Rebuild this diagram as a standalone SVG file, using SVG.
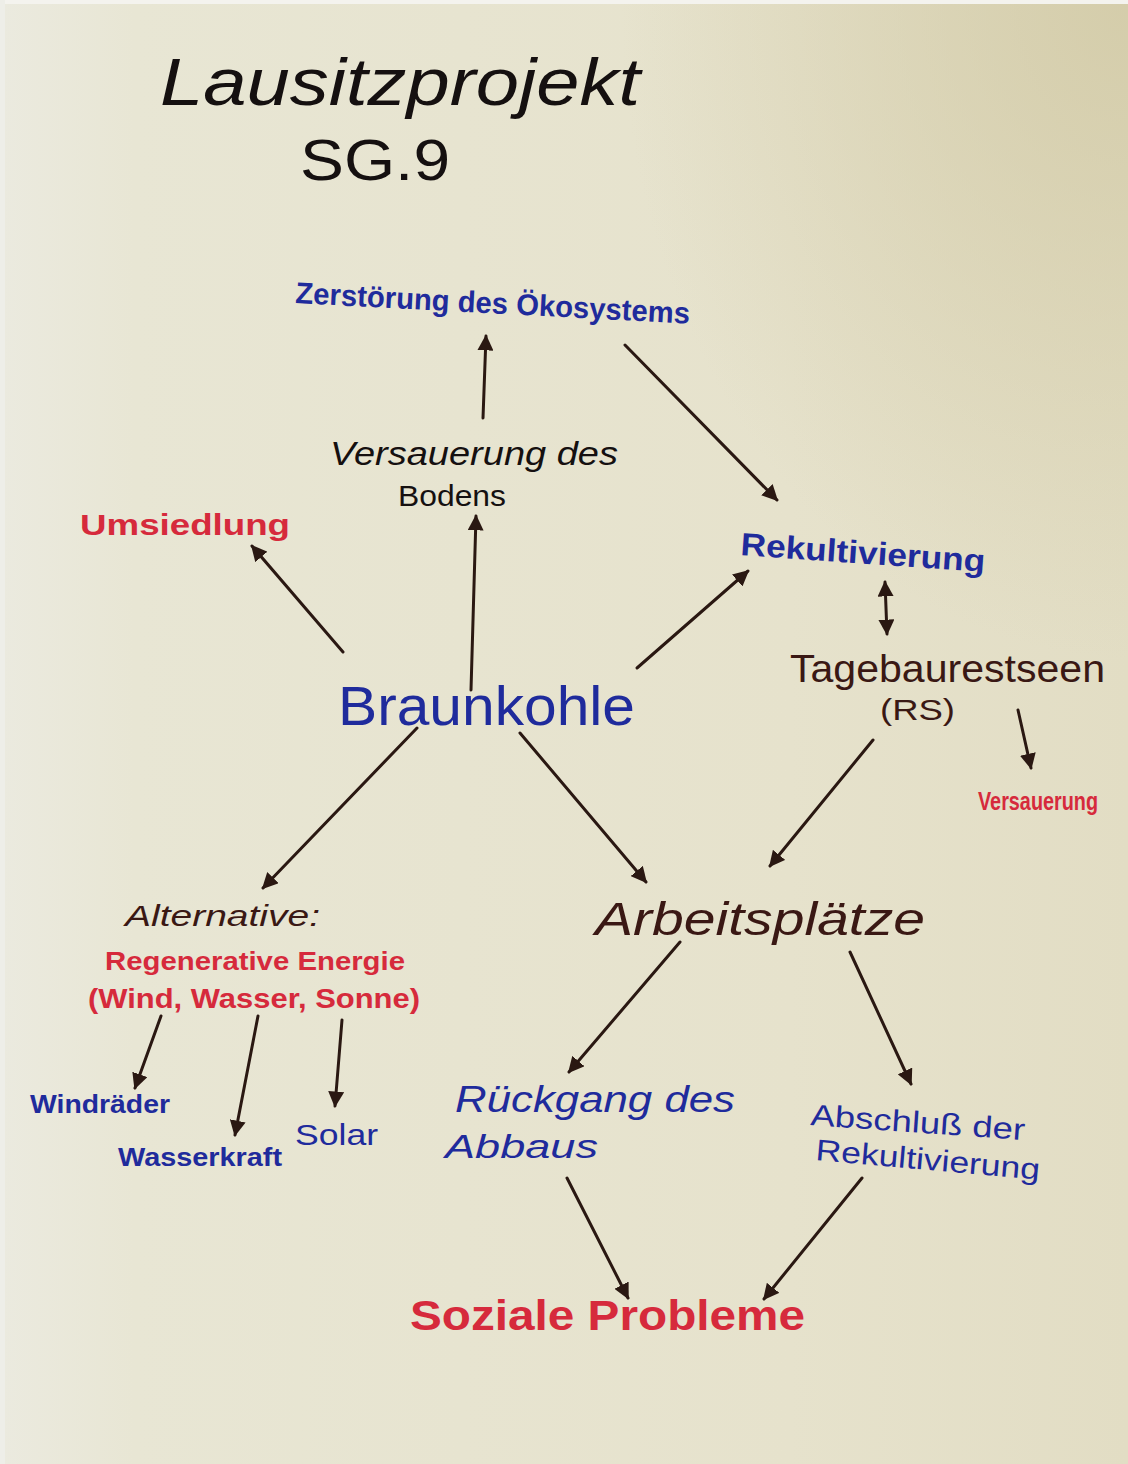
<svg xmlns="http://www.w3.org/2000/svg" width="1128" height="1464" viewBox="0 0 1128 1464">
<defs>
<linearGradient id="paper" x1="0" y1="0" x2="1" y2="0">
<stop offset="0" stop-color="#ebeadf"/>
<stop offset="0.12" stop-color="#e8e6d4"/>
<stop offset="0.7" stop-color="#e6e2cc"/>
<stop offset="1" stop-color="#e2ddc4"/>
</linearGradient>
<radialGradient id="corner" cx="1" cy="0" r="0.45">
<stop offset="0" stop-color="#d2caa6" stop-opacity="0.85"/>
<stop offset="1" stop-color="#d2caa6" stop-opacity="0"/>
</radialGradient>
<marker id="ah" viewBox="0 0 10 10" refX="9" refY="5" markerWidth="16" markerHeight="16" markerUnits="userSpaceOnUse" orient="auto-start-reverse">
<path d="M0,0 L10,5 L0,10 z" fill="#2a1812"/>
</marker>
<style>
text{font-family:"Liberation Sans","DejaVu Sans",sans-serif;}
.blue{fill:#1f2b9c;}
.red{fill:#d62a3c;}
.brown{fill:#3a1814;}
.black{fill:#151010;}
.con line{stroke:#2a1812;stroke-width:3;stroke-linecap:round;marker-end:url(#ah);}
</style>
</defs>
<rect x="0" y="0" width="1128" height="1464" fill="url(#paper)"/>
<rect x="0" y="0" width="1128" height="1464" fill="url(#corner)"/>
<rect x="0" y="0" width="1128" height="4" fill="#f4f3ee"/>
<rect x="0" y="0" width="5" height="1464" fill="#eeeee8"/>

<g id="title">
<text class="black" x="160" y="105" font-size="66" textLength="480" lengthAdjust="spacingAndGlyphs" font-style="italic">Lausitzprojekt</text>
<text class="black" x="300" y="180" font-size="58" textLength="150" lengthAdjust="spacingAndGlyphs">SG.9</text>
</g>

<g id="node-zerstoerung">
<text class="blue" x="295" y="303" font-size="30" font-weight="bold" textLength="395" lengthAdjust="spacingAndGlyphs" transform="rotate(3 295 303)">Zerstörung des Ökosystems</text>
</g>
<g id="node-versauerung-boden">
<text class="black" x="330" y="465" font-size="34" textLength="288" lengthAdjust="spacingAndGlyphs" font-style="italic">Versauerung des</text>
<text class="black" x="398" y="506" font-size="30" textLength="108" lengthAdjust="spacingAndGlyphs">Bodens</text>
</g>
<g id="node-umsiedlung">
<text class="red" x="80" y="535" font-size="30" font-weight="bold" textLength="210" lengthAdjust="spacingAndGlyphs">Umsiedlung</text>
</g>
<g id="node-rekultivierung">
<text class="blue" x="740" y="555" font-size="32" font-weight="bold" textLength="245" lengthAdjust="spacingAndGlyphs" transform="rotate(4 740 555)">Rekultivierung</text>
</g>
<g id="node-tagebaurestseen">
<text class="brown" x="790" y="682" font-size="38" textLength="315" lengthAdjust="spacingAndGlyphs">Tagebaurestseen</text>
<text class="brown" x="880" y="720" font-size="30" textLength="75" lengthAdjust="spacingAndGlyphs">(RS)</text>
</g>
<g id="node-versauerung">
<text class="red" x="978" y="810" font-size="25" font-weight="bold" textLength="120" lengthAdjust="spacingAndGlyphs">Versauerung</text>
</g>
<g id="node-braunkohle">
<text class="blue" x="338" y="725" font-size="56" textLength="297" lengthAdjust="spacingAndGlyphs">Braunkohle</text>
</g>
<g id="node-alternative">
<text class="brown" x="125" y="926" font-size="30" textLength="195" lengthAdjust="spacingAndGlyphs" font-style="italic">Alternative:</text>
<text class="red" x="105" y="970" font-size="26" font-weight="bold" textLength="300" lengthAdjust="spacingAndGlyphs">Regenerative Energie</text>
<text class="red" x="88" y="1008" font-size="28" font-weight="bold" textLength="332" lengthAdjust="spacingAndGlyphs">(Wind, Wasser, Sonne)</text>
</g>
<g id="node-arbeitsplaetze">
<text class="brown" x="595" y="935" font-size="46" textLength="330" lengthAdjust="spacingAndGlyphs" font-style="italic">Arbeitsplätze</text>
</g>
<g id="node-windraeder">
<text class="blue" x="30" y="1113" font-size="26" font-weight="bold" textLength="140" lengthAdjust="spacingAndGlyphs">Windräder</text>
</g>
<g id="node-wasserkraft">
<text class="blue" x="118" y="1166" font-size="26" font-weight="bold" textLength="164" lengthAdjust="spacingAndGlyphs">Wasserkraft</text>
</g>
<g id="node-solar">
<text class="blue" x="295" y="1145" font-size="30" textLength="83" lengthAdjust="spacingAndGlyphs">Solar</text>
</g>
<g id="node-rueckgang">
<text class="blue" x="455" y="1112" font-size="36" textLength="280" lengthAdjust="spacingAndGlyphs" font-style="italic">Rückgang des</text>
<text class="blue" x="445" y="1158" font-size="34" textLength="153" lengthAdjust="spacingAndGlyphs" font-style="italic">Abbaus</text>
</g>
<g id="node-abschluss">
<text class="blue" x="810" y="1125" font-size="30" textLength="215" lengthAdjust="spacingAndGlyphs" transform="rotate(4 810 1125)">Abschluß der</text>
<text class="blue" x="815" y="1160" font-size="30" textLength="225" lengthAdjust="spacingAndGlyphs" transform="rotate(5 815 1160)">Rekultivierung</text>
</g>
<g id="node-soziale">
<text class="red" x="410" y="1330" font-size="42" font-weight="bold" textLength="395" lengthAdjust="spacingAndGlyphs">Soziale Probleme</text>
</g>

<g id="connectors" class="con">
<line x1="483" y1="418" x2="486" y2="336"/>
<line x1="625" y1="345" x2="777" y2="500"/>
<line x1="343" y1="652" x2="252" y2="546"/>
<line x1="471" y1="690" x2="476" y2="516"/>
<line x1="637" y1="668" x2="748" y2="571"/>
<line x1="885" y1="582" x2="887" y2="634" marker-start="url(#ah)"/>
<line x1="1018" y1="710" x2="1031" y2="768"/>
<line x1="873" y1="740" x2="770" y2="866"/>
<line x1="417" y1="728" x2="263" y2="888"/>
<line x1="520" y1="733" x2="646" y2="882"/>
<line x1="161" y1="1016" x2="135" y2="1088"/>
<line x1="258" y1="1016" x2="235" y2="1135"/>
<line x1="342" y1="1020" x2="335" y2="1106"/>
<line x1="680" y1="942" x2="569" y2="1072"/>
<line x1="850" y1="952" x2="911" y2="1084"/>
<line x1="567" y1="1178" x2="628" y2="1298"/>
<line x1="862" y1="1178" x2="764" y2="1299"/>
</g>
</svg>
